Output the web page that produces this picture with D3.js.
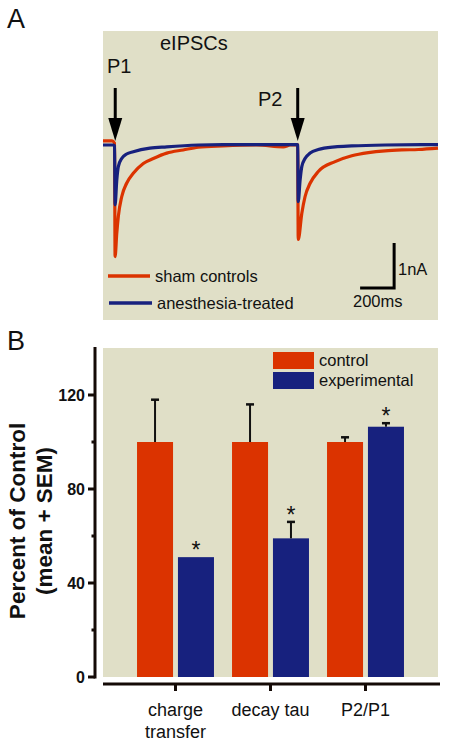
<!DOCTYPE html>
<html><head><meta charset="utf-8">
<script src="https://cdn.jsdelivr.net/npm/d3@7"></script>
<style>html,body{margin:0;padding:0;background:#fff;} svg{display:block;font-family:"Liberation Sans",Arial,Helvetica,sans-serif;}</style>
</head><body><svg id="c" width="450" height="751"></svg>
<script>
// ---------- Panel A data (time in ms, current in nA) ----------
const shamTrace = [
  [0,0.09],[53,0.09],[68,0.04],[71,-2.48],[81,-1.96],[90,-1.59],[110,-1.15],[139,-0.85],
  [178,-0.63],[237,-0.41],[296,-0.30],[375,-0.18],[472,-0.11],[561,-0.05],[706,-0.02],
  [904,0],[1060,-0.04],[1100,0.0],[1141,0.01],[1145,0.0],[1148,-2.10],[1169,-1.52],[1188,-1.15],
  [1218,-0.85],[1266,-0.59],[1365,-0.37],[1463,-0.24],[1561,-0.17],[1659,-0.13],
  [1757,-0.11],[1855,-0.10],[1970,-0.07]
];
const anesTrace = [
  [0,0],[59,0],[68,-0.02],[71,-1.33],[81,-0.78],[90,-0.48],[110,-0.30],[139,-0.20],
  [178,-0.15],[276,-0.07],[375,-0.04],[561,0],[706,0.01],[1141,0.01],[1145,0.0],
  [1148,-1.26],[1159,-0.78],[1169,-0.48],[1188,-0.30],[1218,-0.18],[1266,-0.10],
  [1365,-0.04],[1463,-0.02],[1659,0],[1970,0.01]
];
const stimTimes = [72, 1145];
const stimLabels = ["P1", "P2"];
const traceNames = ["sham controls", "anesthesia-treated"];
const scaleBarMs = 200;
const scaleBarNA = 1;

// ---------- Panel B data ----------
const categories = ["charge transfer", "decay tau", "P2/P1"];
const categoryLines = [["charge", "transfer"], ["decay tau"], ["P2/P1"]];
const groups = ["control", "experimental"];
const controlMean = [100, 100, 100];
const controlSEM = [18, 16, 2];
const expMean = [51, 59, 106.5];
const expSEM = [0, 7, 1.5];
const significant = [true, true, true];
const yMajorTicks = [0, 40, 80, 120];
const yMinorTicks = [20, 60, 100];

const RED = "#db3300", BLUE = "#17217e", BG = "#e0dfc7", INK = "#140a06";
const svg = d3.select("#c");

// ================= Panel A =================
svg.append("text").attr("x", 7).attr("y", 28).attr("font-size", 27).attr("fill", "#111").text("A");
svg.append("rect").attr("x", 103).attr("y", 31).attr("width", 335).attr("height", 289).attr("fill", BG);

const xA = d3.scaleLinear().domain([0, 1970]).range([103, 438]);
const yA = d3.scaleLinear().domain([0, -1]).range([145, 190]);
const line = d3.line().x(d => xA(d[0])).y(d => yA(d[1])).curve(d3.curveMonotoneX);

svg.append("path").datum(shamTrace).attr("d", line).attr("fill", "none")
  .attr("stroke", RED).attr("stroke-width", 3.2).attr("stroke-linejoin", "round");
svg.append("path").datum(anesTrace).attr("d", line).attr("fill", "none")
  .attr("stroke", BLUE).attr("stroke-width", 3.2).attr("stroke-linejoin", "round");

svg.append("text").attr("x", 160).attr("y", 50).attr("font-size", 20).attr("fill", "#111").text("eIPSCs");

// stimulus arrows
const arrowLabelPos = [{x: 107, y: 73}, {x: 258, y: 106}];
stimTimes.forEach((t, i) => {
  const sx = xA(t);
  svg.append("line").attr("x1", sx).attr("x2", sx).attr("y1", 88).attr("y2", 122)
    .attr("stroke", "#000").attr("stroke-width", 3);
  svg.append("path").attr("d", `M${sx - 7},118 L${sx + 7},118 L${sx},141 Z`).attr("fill", "#000");
  svg.append("text").attr("x", arrowLabelPos[i].x).attr("y", arrowLabelPos[i].y)
    .attr("font-size", 20).attr("fill", "#111").text(stimLabels[i]);
});

// legend A
const legA = [{c: RED, y: 276, x1: 108, x2: 150, tx: 155}, {c: BLUE, y: 303, x1: 109, x2: 152, tx: 157}];
legA.forEach((l, i) => {
  svg.append("line").attr("x1", l.x1).attr("x2", l.x2).attr("y1", l.y).attr("y2", l.y)
    .attr("stroke", l.c).attr("stroke-width", 3.5);
  svg.append("text").attr("x", l.tx).attr("y", l.y + 5.5).attr("font-size", 16.5).attr("fill", "#111").text(traceNames[i]);
});

// scale bar
const sbT = 1712, sbI = -3.18;
svg.append("path")
  .attr("d", `M${xA(sbT - scaleBarMs)},${yA(sbI)} L${xA(sbT)},${yA(sbI)} L${xA(sbT)},${yA(sbI + scaleBarNA)}`)
  .attr("fill", "none").attr("stroke", "#000").attr("stroke-width", 3);
svg.append("text").attr("x", 398).attr("y", 275).attr("font-size", 16.5).attr("fill", "#111").text("1nA");
svg.append("text").attr("x", 353).attr("y", 307).attr("font-size", 16.5).attr("fill", "#111").text("200ms");

// ================= Panel B =================
svg.append("text").attr("x", 7).attr("y", 350).attr("font-size", 27).attr("fill", "#111").text("B");
svg.append("rect").attr("x", 103).attr("y", 348).attr("width", 335).attr("height", 329).attr("fill", BG);

const yB = d3.scaleLinear().domain([0, 140]).range([677, 348]);
const x0 = d3.scaleBand().domain(categories).range([128, 413]).paddingInner(0.19).paddingOuter(0.095);
const x1 = d3.scaleBand().domain(groups).range([0, x0.bandwidth()]).paddingInner(0.12);

const rows = categories.map((c, i) => [
  {cat: c, g: "control", m: controlMean[i], e: controlSEM[i], sig: false, col: RED},
  {cat: c, g: "experimental", m: expMean[i], e: expSEM[i], sig: significant[i], col: BLUE}
]).flat();

svg.append("g").selectAll("rect").data(rows).join("rect")
  .attr("x", d => x0(d.cat) + x1(d.g)).attr("width", x1.bandwidth())
  .attr("y", d => yB(d.m)).attr("height", d => yB(0) - yB(d.m)).attr("fill", d => d.col);

// error bars
const eb = svg.append("g").attr("stroke", "#111").attr("stroke-width", 2);
rows.filter(d => d.e > 0).forEach(d => {
  const cx = x0(d.cat) + x1(d.g) + x1.bandwidth() / 2;
  eb.append("line").attr("x1", cx).attr("x2", cx).attr("y1", yB(d.m)).attr("y2", yB(d.m + d.e));
  eb.append("line").attr("x1", cx - 4).attr("x2", cx + 4).attr("y1", yB(d.m + d.e)).attr("y2", yB(d.m + d.e)).attr("stroke-width", 2.5);
});
// asterisks
rows.filter(d => d.sig).forEach(d => {
  const cx = x0(d.cat) + x1(d.g) + x1.bandwidth() / 2;
  svg.append("text").attr("x", cx).attr("y", yB(d.m + d.e) + 1).attr("text-anchor", "middle")
    .attr("font-size", 23).attr("fill", "#111").text("*");
});

// y axis
svg.append("line").attr("x1", 95).attr("x2", 95).attr("y1", 347).attr("y2", yB(0) + 1.5)
  .attr("stroke", INK).attr("stroke-width", 3);
yMajorTicks.forEach(v => {
  svg.append("line").attr("x1", 88).attr("x2", 95).attr("y1", yB(v)).attr("y2", yB(v)).attr("stroke", INK).attr("stroke-width", 3);
  svg.append("text").attr("x", 85).attr("y", yB(v) + 5.5).attr("text-anchor", "end")
    .attr("font-size", 16).attr("font-weight", "bold").attr("fill", "#111").text(v);
});
yMinorTicks.forEach(v => {
  svg.append("line").attr("x1", 91.5).attr("x2", 95).attr("y1", yB(v)).attr("y2", yB(v)).attr("stroke", INK).attr("stroke-width", 3);
});

// x axis
svg.append("line").attr("x1", 103).attr("x2", 440).attr("y1", 684).attr("y2", 684).attr("stroke", INK).attr("stroke-width", 3);
categories.forEach((c, i) => {
  const cx = x0(c) + x0.bandwidth() / 2;
  svg.append("line").attr("x1", cx).attr("x2", cx).attr("y1", 684).attr("y2", 691).attr("stroke", INK).attr("stroke-width", 3);
  const t = svg.append("text").attr("x", cx).attr("y", 716).attr("text-anchor", "middle")
    .attr("font-size", 18).attr("fill", "#111");
  categoryLines[i].forEach((ln, j) => t.append("tspan").attr("x", cx).attr("dy", j === 0 ? 0 : 22).text(ln));
});

// y label
const yl = svg.append("text").attr("transform", "translate(25,521) rotate(-90)").attr("text-anchor", "middle")
  .attr("font-size", 22.5).attr("font-weight", "bold").attr("fill", "#111");
yl.append("tspan").attr("x", 0).attr("y", 0).text("Percent of Control");
yl.append("tspan").attr("x", 0).attr("y", 27).text("(mean + SEM)");

// legend B
groups.forEach((g, i) => {
  const y = 352 + i * 20;
  svg.append("rect").attr("x", 273).attr("y", y).attr("width", 41).attr("height", 17).attr("fill", i === 0 ? RED : BLUE);
  svg.append("text").attr("x", 319).attr("y", y + 14).attr("font-size", 16.5).attr("fill", "#111").text(g);
});
</script></body></html>
